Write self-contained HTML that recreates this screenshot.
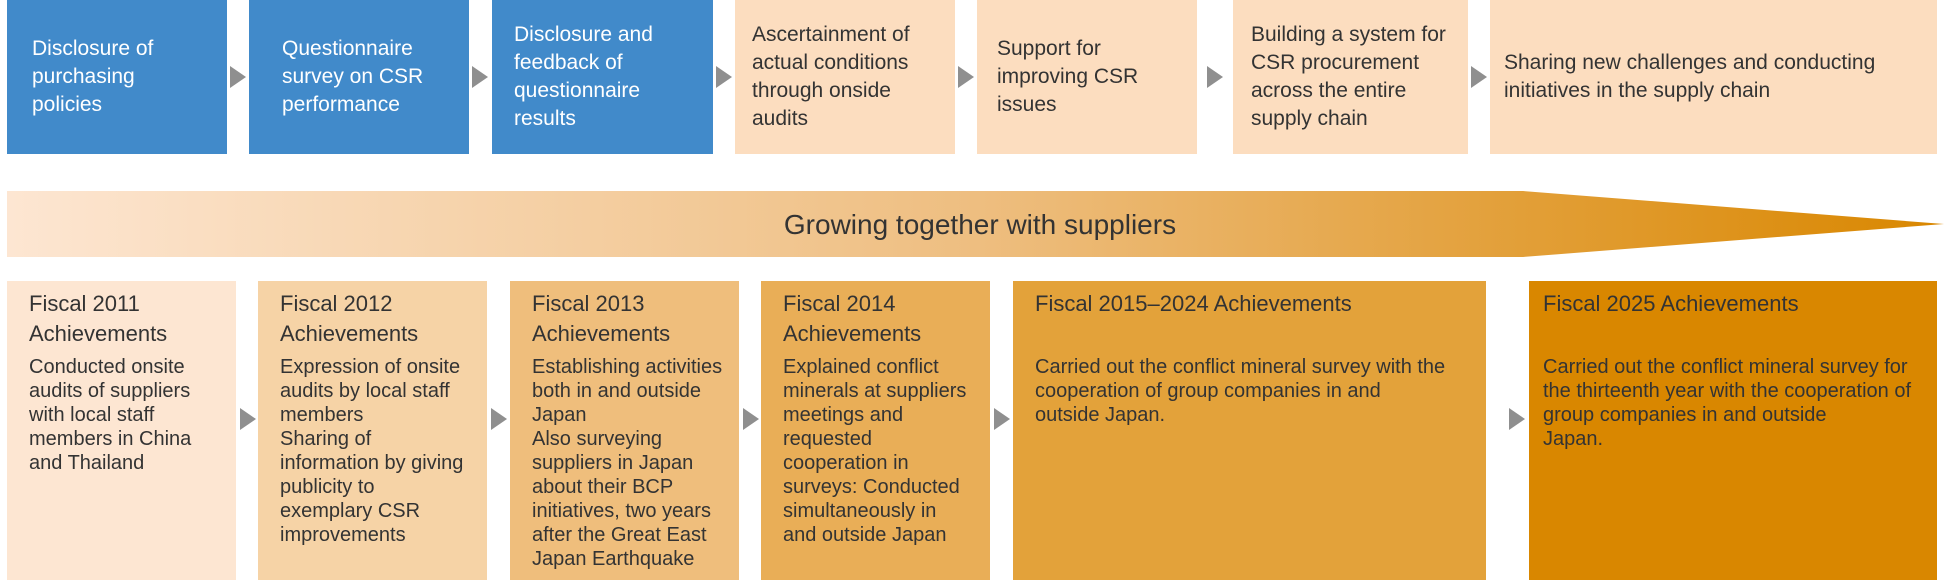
<!DOCTYPE html>
<html><head><meta charset="utf-8"><style>
body{margin:0;width:1944px;height:580px;position:relative;background:#fff;font-family:"Liberation Sans",sans-serif;overflow:hidden}
.t{position:absolute;top:0;height:154px;display:flex;align-items:center;box-sizing:border-box;padding-left:25px;font-size:21px;line-height:28px;background:#FCDDBF;color:#333}
.b{background:#418ACA;color:#fff}
.a{position:absolute;width:0;height:0;border-top:11px solid transparent;border-bottom:11px solid transparent;border-left:16px solid #8f8f8f}
.f{position:absolute;top:281px;height:299px;box-sizing:border-box;color:#333}
.h{position:absolute;top:8px;left:22px;right:10px;font-size:22px;line-height:30px}
.p{position:absolute;top:74px;left:22px;right:16px;font-size:20px;line-height:24px}
</style></head><body>
<div class="t b" style="left:7px;width:220px">Disclosure of<br>purchasing<br>policies</div>
<div class="t b" style="left:249px;width:220px;padding-left:33px">Questionnaire<br>survey on CSR<br>performance</div>
<div class="t b" style="left:492px;width:221px;padding-left:22px">Disclosure and<br>feedback of<br>questionnaire<br>results</div>
<div class="t" style="left:735px;width:220px;padding-left:17px">Ascertainment of<br>actual conditions<br>through onside<br>audits</div>
<div class="t" style="left:977px;width:220px;padding-left:20px">Support for<br>improving CSR<br>issues</div>
<div class="t" style="left:1233px;width:235px;padding-left:18px">Building a system for<br>CSR procurement<br>across the entire<br>supply chain</div>
<div class="t" style="left:1490px;width:447px;padding-left:14px">Sharing new challenges and conducting<br>initiatives in the supply chain</div>
<div class="a" style="left:230px;top:66px"></div>
<div class="a" style="left:472px;top:66px"></div>
<div class="a" style="left:716px;top:66px"></div>
<div class="a" style="left:958px;top:66px"></div>
<div class="a" style="left:1207px;top:66px"></div>
<div class="a" style="left:1471px;top:66px"></div>
<svg style="position:absolute;left:0;top:0" width="1944" height="580">
<defs><linearGradient id="g" x1="0" x2="1"><stop offset="0" stop-color="#FDE6D2"/><stop offset="0.5" stop-color="#EEBE80"/><stop offset="1" stop-color="#D98700"/></linearGradient></defs>
<polygon points="7,191 1523,191 1944,224 1523,257 7,257" fill="url(#g)"/>
<text x="980" y="234" text-anchor="middle" font-family="Liberation Sans" font-size="28" fill="#333">Growing together with suppliers</text>
</svg>
<div class="f" style="left:7px;width:229px;background:#FDE6D2"><div class="h">Fiscal 2011<br>Achievements</div><div class="p">Conducted onsite audits of suppliers with local staff members in China and Thailand</div></div>
<div class="f" style="left:258px;width:229px;background:#F6D3A6"><div class="h">Fiscal 2012<br>Achievements</div><div class="p">Expression of onsite audits by local staff members<br>Sharing of information by giving publicity to exemplary CSR improvements</div></div>
<div class="f" style="left:510px;width:229px;background:#EFBE7C"><div class="h">Fiscal 2013<br>Achievements</div><div class="p">Establishing activities both in and outside Japan<br>Also surveying suppliers in Japan about their BCP initiatives, two years after the Great East Japan Earthquake</div></div>
<div class="f" style="left:761px;width:229px;background:#E9AE57"><div class="h">Fiscal 2014<br>Achievements</div><div class="p">Explained conflict minerals at suppliers meetings and requested cooperation in surveys: Conducted simultaneously in and outside Japan</div></div>
<div class="f" style="left:1013px;width:473px;background:#E3A23A"><div class="h">Fiscal 2015–2024 Achievements</div><div class="p" style="right:40px">Carried out the conflict mineral survey with the cooperation of group companies in and outside Japan.</div></div>
<div class="f" style="left:1529px;width:408px;background:#D98700"><div class="h" style="left:14px">Fiscal 2025 Achievements</div><div class="p" style="left:14px;right:14px">Carried out the conflict mineral survey for the thirteenth year with the cooperation of group companies in and outside<br>Japan.</div></div>
<div class="a" style="left:240px;top:408px"></div>
<div class="a" style="left:491px;top:408px"></div>
<div class="a" style="left:743px;top:408px"></div>
<div class="a" style="left:994px;top:408px"></div>
<div class="a" style="left:1509px;top:408px"></div>
</body></html>
